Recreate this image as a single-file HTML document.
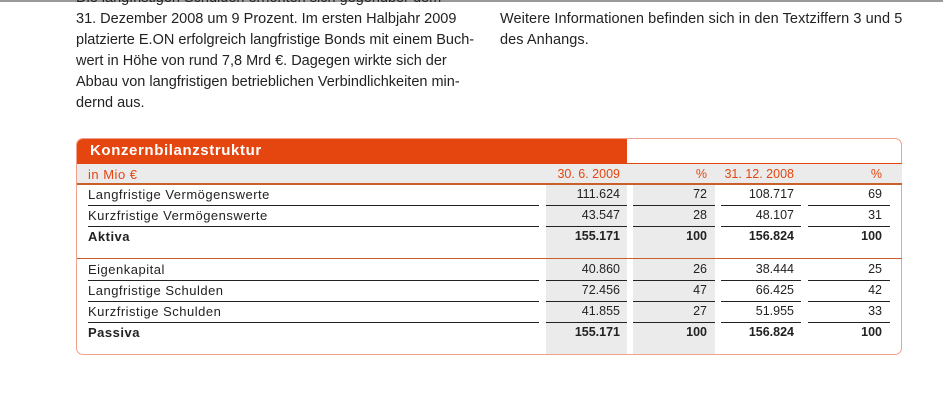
<!DOCTYPE html>
<html><head><meta charset="utf-8"><style>
body{margin:0;width:943px;height:416px;background:#fff;position:relative;overflow:hidden;font-family:"Liberation Sans",sans-serif;color:#222}
.p{position:absolute;font-size:14.5px;line-height:21px;white-space:nowrap}
.box{position:absolute;left:76px;top:138px;width:826px;height:217px;border:1px solid #f0a08c;border-radius:7px;box-sizing:border-box}
.a{position:absolute;font-size:12.5px;white-space:nowrap}
.g{position:absolute;background:#ebebeb}
.l{position:absolute;height:1px;background:#222}
.r{text-align:right}
</style></head><body>
<div style="position:absolute;left:0;top:0;width:943px;height:2px;background:#999"></div>
<div class="p" style="left:76px;top:-12px">Die langfristigen Schulden erhöhten sich gegenüber dem<br>31. Dezember 2008 um 9 Prozent. Im ersten Halbjahr 2009<br>platzierte E.ON erfolgreich langfristige Bonds mit einem Buch-<br>wert in Höhe von rund 7,8 Mrd €. Dagegen wirkte sich der<br>Abbau von langfristigen betrieblichen Verbindlichkeiten min-<br>dernd aus.</div>
<div class="p" style="left:500px;top:9px;letter-spacing:0.08px">Weitere Informationen befinden sich in den Textziffern 3 und 5<br>des Anhangs.</div>
<div class="box"></div>
<div style="position:absolute;left:77px;top:139px;width:550px;height:24px;background:#e5450f;border-top-left-radius:6px"></div>
<div class="a" style="left:90px;top:142px;color:#fff;font-size:15px;font-weight:bold;letter-spacing:0.6px">Konzernbilanzstruktur</div>
<div class="g" style="left:77px;top:163px;width:825px;height:21px"></div>
<div style="position:absolute;left:77px;top:163px;width:825px;height:1px;background:#e5450f"></div>
<div style="position:absolute;left:77px;top:183px;width:825px;height:2px;background:#c8602a"></div>
<div class="g" style="left:546px;top:185px;width:81px;height:169px"></div>
<div class="g" style="left:633px;top:185px;width:82px;height:169px"></div>
<div style="position:absolute;left:77px;top:258px;width:825px;height:1px;background:#c8602a"></div>
<div id="t"></div>
<script>
const headers=["in Mio €","30. 6. 2009","%","31. 12. 2008","%"];
const labels=["Langfristige Vermögenswerte","Kurzfristige Vermögenswerte","Aktiva","Eigenkapital","Langfristige Schulden","Kurzfristige Schulden","Passiva"];
const v2009=["111.624","43.547","155.171","40.860","72.456","41.855","155.171"];
const p2009=["72","28","100","26","47","27","100"];
const v2008=["108.717","48.107","156.824","38.444","66.425","51.955","156.824"];
const p2008=["69","31","100","25","42","33","100"];
const bold=[false,false,true,false,false,false,true];
const rowTop=[184,205,226,259,280,301,322];
const cols=[[88,450,false],[546,74,true],[633,74,true],[721,73,true],[808,74,true]];
const t=document.getElementById('t');
function add(x,y,w,txt,right,b,color,name,big){const d=document.createElement('div');d.className='a'+(right?' r':'');d.style.left=x+'px';d.style.top=y+'px';d.style.width=w+'px';if(b)d.style.fontWeight='bold';if(color)d.style.color=color;if(big){d.style.fontSize='13px';d.style.letterSpacing='0.5px';}d.textContent=txt;


t.appendChild(d);}
headers.forEach((h,i)=>add(cols[i][0],167,cols[i][1],h,cols[i][2],false,'#e5450f','header-'+i,i==0));
labels.forEach((lab,r)=>{const y=rowTop[r]+3;const vals=[lab,v2009[r],p2009[r],v2008[r],p2008[r]];
vals.forEach((v,i)=>add(cols[i][0],y,cols[i][1],v,cols[i][2],bold[r],null,'cell-r'+r+'-c'+i,i==0));
if(!bold[r]){const ls=[[88,451],[546,81],[633,82],[721,80],[808,82]];ls.forEach((s,i)=>{const l=document.createElement('div');l.className='l';l.style.left=s[0]+'px';l.style.top=(rowTop[r]+21)+'px';l.style.width=s[1]+'px';


t.appendChild(l);});}
});
</script>
</body></html>
